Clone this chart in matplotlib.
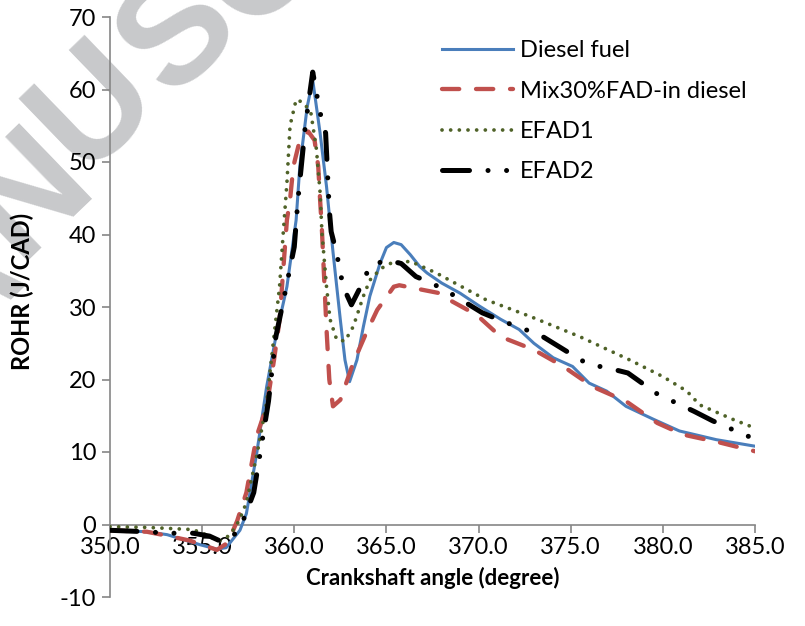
import matplotlib
matplotlib.use("Agg")
import matplotlib.pyplot as plt

# -- Datos --
diesel_x = [350.0, 352.0, 353.1, 354.9, 355.8, 356.3, 357.05, 357.4, 357.96, 358.5, 359.0,
            359.6, 360.1, 360.3, 360.7, 361.0, 361.4, 361.75, 362.1, 362.5, 362.75, 363.0,
            363.4, 363.75, 364.1, 364.65, 365.0, 365.4, 365.8, 366.3, 366.8, 367.2, 368.0,
            369.0, 370.0, 371.2, 372.2, 373.0, 374.05, 375.1, 376.0, 376.95, 378.0, 379.5,
            380.9, 382.9, 385.0]
diesel_y = [-0.8, -1.0, -1.4, -2.8, -3.4, -3.2, -0.8, 1.5, 9.8, 19.0, 25.9,
            32.8, 42.0, 49.4, 57.6, 61.3, 54.0, 46.6, 37.6, 28.2, 22.7, 19.7,
            22.7, 27.3, 31.5, 36.0, 38.2, 38.9, 38.6, 37.2, 35.6, 34.7, 33.3,
            31.9, 30.2, 28.3, 26.9, 25.0, 23.0, 21.8, 19.5, 18.4, 16.3, 14.5,
            12.9, 11.7, 10.8]

mix_x = [350.0, 352.0, 353.0, 354.3, 355.0, 355.8, 356.4, 356.9, 357.4, 357.96, 358.5,
         358.9, 359.2, 359.4, 359.6, 359.77, 359.95, 360.3, 360.76, 361.1, 361.3, 361.4,
         361.5, 361.6, 361.75, 361.9, 362.1, 362.5, 363.2, 363.9, 364.5, 365.4, 365.7,
         366.5, 367.9, 368.4, 369.9, 371.2, 373.0, 374.6, 376.2, 378.0, 379.7, 381.1,
         383.1, 385.0]
mix_y = [-0.8, -1.0, -1.5, -2.2, -2.8, -3.5, -2.5, 0.5, 4.4, 12.2, 16.3,
         22.7, 28.2, 35.1, 42.0, 44.8, 49.4, 53.0, 54.2, 53.0, 49.4, 44.8,
         40.6, 35.1, 26.9, 20.0, 16.3, 17.2, 22.3, 26.4, 29.6, 32.8, 33.0,
         32.6, 31.9, 31.0, 28.9, 25.9, 24.1, 21.8, 19.0, 17.0, 14.0, 12.4,
         11.3, 10.1]

efad1_x = [350.0, 352.0, 354.5, 355.3, 355.9, 356.5, 357.0, 357.4, 358.0, 358.5, 358.9,
           359.2, 359.4, 359.6, 359.77, 360.1, 360.5, 360.9, 361.2, 361.4, 361.5, 361.75,
           361.94, 362.3, 362.75, 363.2, 363.75, 364.1, 364.7, 365.2, 366.3, 367.7, 368.5,
           370.4, 372.8, 375.5, 378.2, 380.0, 381.3, 382.0, 383.8, 385.0]
efad1_y = [-0.3, -0.4, -0.7, -1.5, -2.3, -1.5, 0.5, 3.0, 10.0, 16.8, 26.0,
           32.8, 40.2, 47.1, 55.0, 58.6, 58.2, 56.8, 51.8, 45.8, 40.3, 32.8,
           28.3, 25.5, 25.3, 27.3, 31.5, 33.7, 35.3, 36.0, 36.3, 34.7, 33.6,
           31.0, 28.7, 25.9, 22.7, 20.4, 18.4, 16.5, 14.5, 13.3]

efad2_x = [350.0, 352.0, 353.1, 354.5, 355.4, 356.0, 356.6, 356.9, 357.3, 357.8, 358.3,
           358.6, 359.0, 359.5, 360.0, 360.2, 360.6, 361.0, 361.4, 361.7, 361.9, 362.0,
           362.3, 362.65, 363.1, 363.6, 364.1, 365.0, 365.8, 366.6, 367.6, 368.6, 370.2,
           371.25, 372.3, 373.3, 374.96, 375.95, 377.0, 378.1, 379.7, 380.7, 381.7, 382.7,
           384.5, 385.0]
efad2_y = [-0.8, -1.0, -1.2, -1.2, -1.6, -2.3, -1.8, -0.9, 1.0, 4.4, 12.2,
           17.0, 25.9, 32.0, 38.3, 44.8, 55.0, 62.4, 56.8, 54.0, 43.4, 40.4,
           37.4, 32.8, 30.3, 32.8, 35.6, 36.5, 36.0, 34.2, 33.1, 31.7, 29.2,
           28.1, 27.1, 26.2, 23.6, 22.1, 21.6, 20.9, 18.0, 16.8, 15.6, 14.3,
           12.3, 11.8]

labels = ["Diesel fuel", "Mix30%FAD-in diesel", "EFAD1", "EFAD2"]
x_ticks = [350, 355, 360, 365, 370, 375, 380, 385]
y_ticks = [-10, 0, 10, 20, 30, 40, 50, 60, 70]

plt.rcParams["font.family"] = ["Lato", "DejaVu Sans"]
plt.rcParams["axes.unicode_minus"] = False

fig = plt.figure(figsize=(8.05, 6.26), dpi=100)

# marca de agua (parcialmente visible, cortada en el borde como en el original)
for ch, px, py in [("A", -38, 290), ("N", 30, 195), ("U", 96, 108), ("S", 180, 36), ("C", 262, -32)]:
    fig.text(px / 805, 1 - py / 626, ch, fontsize=110, fontweight="bold",
             family="Liberation Sans", color="#c8c9cb", rotation=44,
             ha="center", va="center", zorder=-1)

ax = fig.add_axes([110 / 805, 1 - 597 / 626, 645 / 805, 580 / 626])
ax.patch.set_alpha(0)

ax.plot(diesel_x, diesel_y, color="#4A7EBB", lw=2.2, label=labels[0], zorder=3)
ax.plot(mix_x, mix_y, color="#C0504D", lw=3.1, dashes=(4.0, 3.9),
        dash_capstyle="round", label=labels[1], zorder=3)
ax.plot(efad1_x, efad1_y, color="#4F6228", lw=2.7, dashes=(0.01, 2.3),
        dash_capstyle="round", label=labels[2], zorder=3)
ax.plot(efad2_x, efad2_y, color="black", lw=3.6,
        dashes=(5.4, 3.7, 0.01, 3.7, 0.01, 3.7), dash_capstyle="round",
        label=labels[3], zorder=3)

ax.set_xlim(350, 385)
ax.set_ylim(-10, 70)
ax.set_xticks(x_ticks)
ax.set_xticklabels([f"{v:.1f}" for v in x_ticks])
ax.set_yticks(y_ticks)

ax.spines["top"].set_visible(False)
ax.spines["right"].set_visible(False)
ax.spines["bottom"].set_position(("data", 0))
for s in ("left", "bottom"):
    ax.spines[s].set_color("#868686")
    ax.spines[s].set_linewidth(1.2)
ax.tick_params(axis="both", direction="out", length=6, width=1.2,
               color="#868686", labelsize=17, labelcolor="black")
ax.tick_params(axis="y", pad=4)
ax.tick_params(axis="x", pad=3)

ax.set_ylabel("ROHR (J/CAD)", fontsize=17, fontweight="bold")
ax.yaxis.set_label_coords(-0.136, (597 - 291) / 580)
ax.set_xlabel("Crankshaft angle (degree)", fontsize=16, fontweight="bold")
ax.xaxis.set_label_coords(0.5, (597 - 578) / 580)
ax.xaxis.label.set_va("center")
ax.yaxis.label.set_va("center")

leg = ax.legend(loc="upper left", bbox_to_anchor=(0.5, 0.976), frameon=False,
                fontsize=17, handlelength=3.0, handletextpad=0.3,
                labelspacing=0.82, borderaxespad=0)

fig.savefig("out.png", dpi=100)
